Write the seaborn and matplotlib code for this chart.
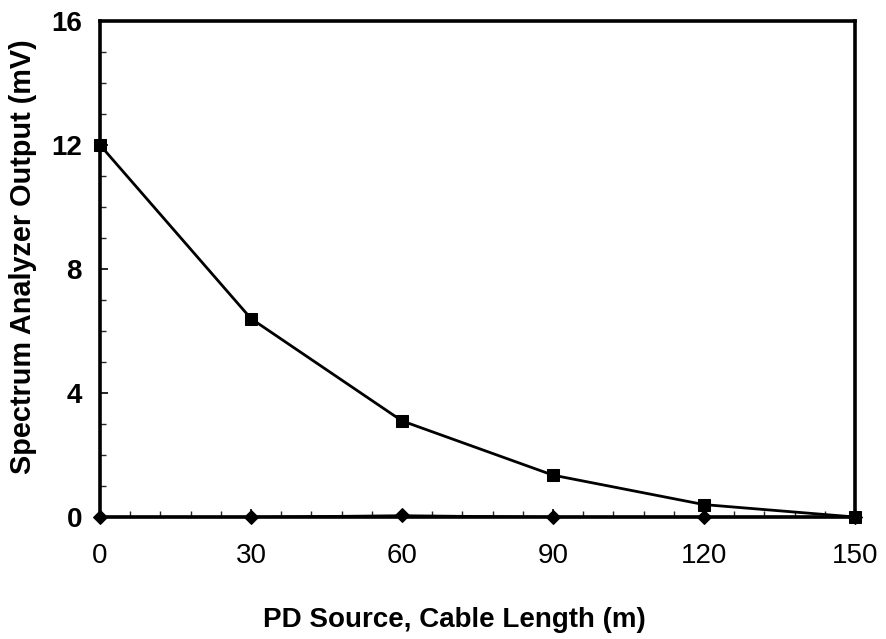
import matplotlib
matplotlib.use("Agg")
import matplotlib.pyplot as plt
import seaborn as sns
import pandas as pd
from matplotlib.ticker import MultipleLocator

# Cable length from the PD source (m)
cable_length = [0, 30, 60, 90, 120, 150]
# Spectrum analyzer output (mV) for the detected PD signal
signal_mv = [12.0, 6.4, 3.1, 1.35, 0.4, 0.0]
# Background / noise reading (mV), essentially zero
noise_mv = [0.0, 0.0, 0.05, 0.0, 0.0, 0.0]

x_ticks = [0, 30, 60, 90, 120, 150]
y_ticks = [0, 4, 8, 12, 16]

sns.set_theme(style="white")
plt.rcParams["font.family"] = ["Liberation Sans", "DejaVu Sans"]

df_sig = pd.DataFrame({"length": cable_length, "output": signal_mv})
df_noise = pd.DataFrame({"length": cable_length, "output": noise_mv})

fig = plt.figure(figsize=(8.86, 6.39), dpi=100)
ax = fig.add_axes([100 / 886, 122 / 639, 755 / 886, 496 / 639])

sns.lineplot(data=df_noise, x="length", y="output", ax=ax, color="black",
             linewidth=1.6, marker="D", markersize=7, markeredgecolor="black",
             clip_on=False, zorder=3)
sns.lineplot(data=df_sig, x="length", y="output", ax=ax, color="black",
             linewidth=2.0, marker="s", markersize=9, markeredgecolor="black",
             clip_on=False, zorder=4)

ax.set_xlim(0, 150)
ax.set_ylim(0, 16)
ax.set_xticks(x_ticks)
ax.set_yticks(y_ticks)
ax.xaxis.set_minor_locator(MultipleLocator(6))
ax.yaxis.set_minor_locator(MultipleLocator(1))
ax.tick_params(axis="both", which="major", direction="in", length=6, width=1.2,
               labelsize=20, colors="black")
ax.tick_params(axis="x", which="major", pad=19)
ax.tick_params(axis="y", which="major", pad=13)
ax.tick_params(axis="both", which="minor", direction="in", length=4, width=1.0)
ax.tick_params(axis="both", which="both", bottom=True, left=True, top=False, right=False)
for lbl in ax.get_yticklabels():
    lbl.set_fontweight("bold")

for side in ["left", "bottom", "top", "right"]:
    ax.spines[side].set_visible(True)
    ax.spines[side].set_color("black")
    ax.spines[side].set_linewidth(2.6)

ax.set_xlabel("PD Source, Cable Length (m)", fontsize=20, fontweight="bold", color="black")
ax.set_ylabel("Spectrum Analyzer Output (mV)", fontsize=20.8, fontweight="bold", color="black")
ax.xaxis.set_label_coords(0.470, -0.181)
ax.yaxis.set_label_coords(-0.083, 0.524)

fig.savefig("out.png", dpi=100, facecolor="white")
